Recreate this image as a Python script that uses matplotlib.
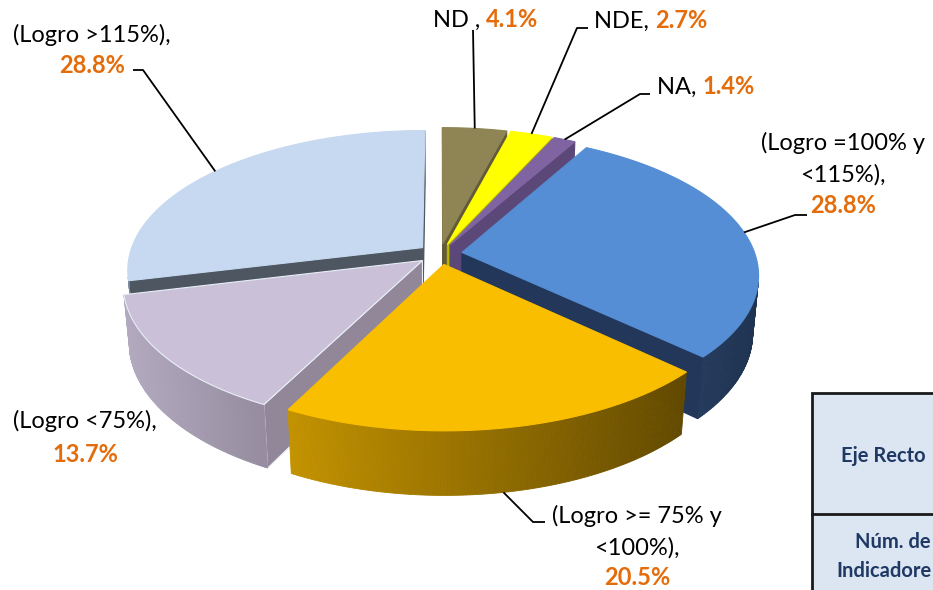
import numpy as np
import matplotlib
matplotlib.use("Agg")
import matplotlib.pyplot as plt
from matplotlib.patches import Polygon, Rectangle

# ---------------- data ----------------
categories = ["ND", "NDE", "NA", "(Logro =100% y <115%)", "(Logro >= 75% y <100%)",
              "(Logro <75%)", "(Logro >115%)"]
values = [4.1, 2.7, 1.4, 28.8, 20.5, 13.7, 28.8]
label_names = [["ND , "], ["NDE, "], ["NA, "], ["(Logro =100% y", "<115%),"],
               ["(Logro >= 75% y", "<100%),"], ["(Logro <75%),"], ["(Logro >115%),"]]
table_texts = ["Eje Recto", "Núm. de", "Indicadore"]   # visible part of the cropped table

# ---------------- styles ----------------
top_colors = ["#8F8454", "#FFFF00", "#8064A2", "#558ED5", "#FABE00", "#CAC1D9", "#C6D9F0"]
wall_left = ["#6E6640", "#C8C800", "#5E4A7A", "#243A5C", "#C39200", "#B3AAC0", "#8A9AAE"]
wall_right = ["#5A5334", "#A8A800", "#4E3D66", "#203452", "#634A00", "#958C9F", "#7A8A9E"]
radial_colors = ["#625A38", "#B8B800", "#5B4878", "#22375A", "#8A6A00", "#918799", "#4E5761"]
VAL_COLOR = "#E46C0A"
FONT = "Lato"

# geometry of the 3-D view (pixel layout)
CX, CY, S = 440.0, 254.0, 293.0
ALPHA = np.deg2rad(27.9)
DIST = 5.7
H = 0.225
EXPL = 0.076
CAM = np.array([0.0, -DIST * np.cos(ALPHA), DIST * np.sin(ALPHA)])


def proj(X, Y, Z):
    X = np.asarray(X, float); Y = np.asarray(Y, float); Z = np.asarray(Z, float)
    yv = Y * np.sin(ALPHA) + Z * np.cos(ALPHA)
    d = Y * np.cos(ALPHA) - Z * np.sin(ALPHA)
    s = DIST / (DIST + d)
    return CX + S * X * s, CY - S * yv * s


def mix(c1, c2, t):
    a = np.array(matplotlib.colors.to_rgb(c1)); b = np.array(matplotlib.colors.to_rgb(c2))
    return tuple(a * (1 - t) + b * t)


fig = plt.figure(figsize=(9.33, 5.9), dpi=100)
ax = fig.add_axes([0, 0, 1, 1])
ax.set_xlim(0, 933)
ax.set_ylim(590, 0)
ax.axis("off")

vals = np.array(values, float)
fr = vals / vals.sum()
cum = np.concatenate([[0], np.cumsum(fr)])
slices = []
for i in range(len(vals)):
    b = 90 - 360 * cum[i]
    a = b - 360 * fr[i]
    m = 0.5 * (a + b)
    ox = EXPL * np.cos(np.deg2rad(m)); oy = EXPL * np.sin(np.deg2rad(m))
    slices.append(dict(i=i, a=a, b=b, m=m, ox=ox, oy=oy))

# walls, back to front
order = sorted(slices, key=lambda s: -np.sin(np.deg2rad(s["m"])))
z = 1
for sl in order:
    i, a, b, ox, oy = sl["i"], sl["a"], sl["b"], sl["ox"], sl["oy"]
    P0 = np.array([ox, oy, 0.0])
    # radial walls
    for ang, sign in ((a, 1), (b, -1)):
        r = np.deg2rad(ang)
        n = sign * np.array([np.sin(r), -np.cos(r), 0.0])
        if np.dot(n, CAM - P0) > 0:
            X = [ox, ox + np.cos(r), ox + np.cos(r), ox]
            Y = [oy, oy + np.sin(r), oy + np.sin(r), oy]
            Z = [0, 0, -H, -H]
            px, py = proj(X, Y, Z)
            ec = "#E8EEF6" if i == 5 else radial_colors[i]
            ax.add_patch(Polygon(np.column_stack([px, py]), closed=True, fc=radial_colors[i],
                                 ec=ec, lw=0.8, zorder=z))
            z += 1
    # outer wall
    nseg = max(4, int((b - a) * 2))
    th = np.deg2rad(np.linspace(a, b, nseg + 1))
    segs = []
    for k in range(nseg):
        tm = 0.5 * (th[k] + th[k + 1])
        P = np.array([ox + np.cos(tm), oy + np.sin(tm), 0.0])
        nrm = np.array([np.cos(tm), np.sin(tm), 0.0])
        if np.dot(nrm, CAM - P) > 0:
            X = [ox + np.cos(th[k]), ox + np.cos(th[k + 1]), ox + np.cos(th[k + 1]), ox + np.cos(th[k])]
            Y = [oy + np.sin(th[k]), oy + np.sin(th[k + 1]), oy + np.sin(th[k + 1]), oy + np.sin(th[k])]
            Z = [0, 0, -H, -H]
            px, py = proj(X, Y, Z)
            segs.append((px, py))
    if segs:
        xm = [np.mean(p[0]) for p in segs]
        x0, x1 = min(xm), max(xm)
        for (px, py), xc in zip(segs, xm):
            t = 0 if x1 == x0 else (xc - x0) / (x1 - x0)
            c = mix(wall_left[i], wall_right[i], t)
            ax.add_patch(Polygon(np.column_stack([px, py]), closed=True, fc=c, ec=c, lw=0.6, zorder=z))
        z += 1

# top faces
for sl in slices:
    i, a, b, ox, oy = sl["i"], sl["a"], sl["b"], sl["ox"], sl["oy"]
    th = np.deg2rad(np.linspace(a, b, max(6, int((b - a) * 2))))
    X = np.concatenate([[ox], ox + np.cos(th)])
    Y = np.concatenate([[oy], oy + np.sin(th)])
    px, py = proj(X, Y, np.zeros_like(X))
    ec = "#E8EEF6" if i == 5 else top_colors[i]
    ax.add_patch(Polygon(np.column_stack([px, py]), closed=True, fc=top_colors[i], ec=ec,
                         lw=0.8, zorder=100 + i))

# ---------------- labels ----------------
FS = 17
txt_kw = dict(fontsize=FS, family=FONT, color="black", zorder=300)
val_kw = dict(fontsize=FS, family=FONT, color=VAL_COLOR, fontweight="bold", zorder=300)


def anchor_top(i):
    sl = slices[i]
    r = np.deg2rad(sl["m"])
    return proj(sl["ox"] + np.cos(r), sl["oy"] + np.sin(r), 0.0)


def anchor_bottom(i):
    sl = slices[i]
    r = np.deg2rad(sl["m"])
    return proj(sl["ox"] + np.cos(r), sl["oy"] + np.sin(r), -H)


def vlabel(i):
    return f"{values[i]:.1f}%"


# single-line labels: name + value
single = {0: (433, 27), 1: (594, 28), 2: (657, 94)}
for i, (x, y) in single.items():
    t = ax.text(x, y, label_names[i][0], ha="left", va="baseline", **txt_kw)
    ax.annotate(vlabel(i), xy=(1, 0), xycoords=t, ha="left", va="bottom", **val_kw)

# multi-line labels: (center x, baselines)
multi = {3: (843, [150, 182, 213]), 4: (637, [523, 555, 585]), 5: (85, [428, 462]),
         6: (92, [42, 73])}
for i, (x, ys) in multi.items():
    for line, y in zip(label_names[i], ys[:-1]):
        ax.text(x, y, line, ha="center", va="baseline", **txt_kw)
    ax.text(x, ys[-1], vlabel(i), ha="center", va="baseline", **val_kw)

# leader lines: anchor on slice -> elbow -> end
leaders = {6: ("top", (143, 70), (133, 70)),
           0: ("top", (473, 30), (473, 30)),
           1: ("top", (577, 28), (588, 28)),
           2: ("top", (640, 94), (650, 94)),
           3: ("top", (795, 215), (807, 215)),
           4: ("bottom", (533, 522), (545, 522))}
for i, (kind, elbow, end) in leaders.items():
    ax_, ay_ = anchor_top(i) if kind == "top" else anchor_bottom(i)
    ax.plot([ax_, elbow[0], end[0]], [ay_, elbow[1], end[1]], color="black", lw=1.3,
            zorder=250, solid_capstyle="butt")

# ---------------- partial table at lower right ----------------
ax.add_patch(Rectangle((812, 393), 200, 260, fc="#DCE6F2", ec="#1A1A1A", lw=2.0, zorder=200,
                       clip_on=True))
ax.plot([812, 1000], [514, 514], color="#1A1A1A", lw=2.0, zorder=201)
tab_kw = dict(fontsize=14.5, family=FONT, fontweight="bold", color="#1F3864", ha="left",
              va="baseline", zorder=202)
ax.text(841, 462, table_texts[0], **tab_kw)
ax.text(855, 548, table_texts[1], **tab_kw)
ax.text(836, 577, table_texts[2], **tab_kw)

fig.savefig("out.png", dpi=100)
